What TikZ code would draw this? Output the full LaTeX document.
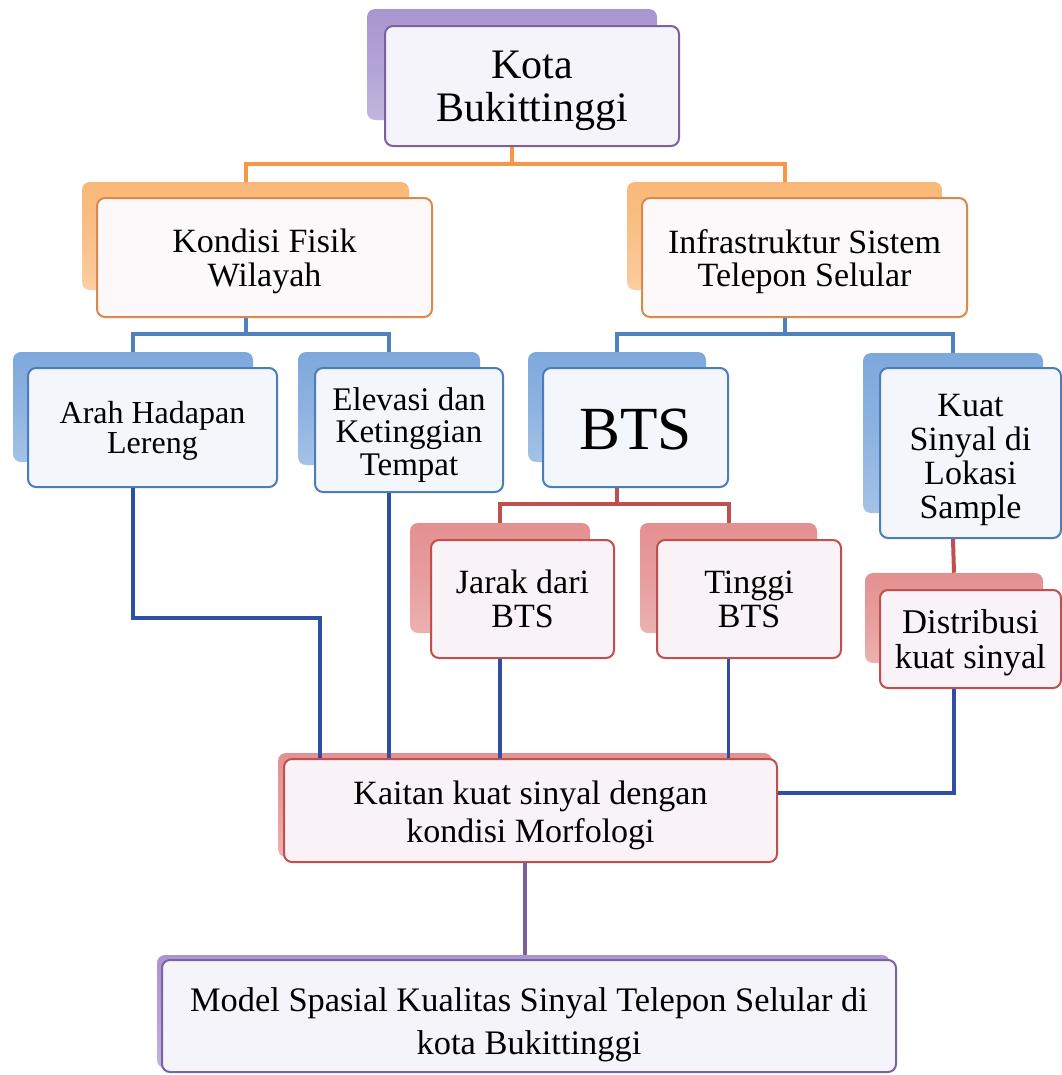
\documentclass[tikz,border=0pt]{standalone}
\usepackage{fontspec}
\setmainfont{Liberation Serif}
\usetikzlibrary{calc}
\definecolor{pBorder}{HTML}{7B62A3}
\definecolor{pShadow}{HTML}{A896D0}
\definecolor{pFill}{HTML}{F6F4FB}
\definecolor{oBorder}{HTML}{D98A4A}
\definecolor{oShadow}{HTML}{F9B878}
\definecolor{oFill}{HTML}{FDF9FA}
\definecolor{oLine}{HTML}{F79646}
\definecolor{bBorder}{HTML}{4A7CBE}
\definecolor{bShadow}{HTML}{7EA8DC}
\definecolor{bFill}{HTML}{F3F7FC}
\definecolor{bLine}{HTML}{4F81BD}
\definecolor{rBorder}{HTML}{C0504D}
\definecolor{rShadow}{HTML}{E49090}
\definecolor{rFill}{HTML}{F9F2F6}
\definecolor{rLine}{HTML}{C0504D}
\definecolor{nLine}{HTML}{2F4FA5}
\definecolor{pLine}{HTML}{7A5F9A}
\tikzset{
  sz/.style 2 args={minimum width=#1*0.75pt, minimum height=#2*0.75pt},
  fs/.style 2 args={font=\fontsize{#1}{#2}\selectfont},
  back/.style={rectangle, rounded corners=6pt, inner sep=0pt, draw=none,
    top color=#1, bottom color=#1!70!white, middle color=#1!88!white},
  front/.style={rectangle, rounded corners=6pt, line width=1.5pt, inner sep=0pt},
  txt/.style={align=center, inner sep=0pt, text=black},
  pbox/.style={front, draw=pBorder, fill=pFill},
  obox/.style={front, draw=oBorder, fill=oFill},
  bbox/.style={front, draw=bBorder, fill=bFill},
  rbox/.style={front, draw=rBorder, fill=rFill},
  oconn/.style={draw=oLine, line width=3pt},
  bconn/.style={draw=bLine, line width=3pt},
  rconn/.style={draw=rLine, line width=3pt},
  nconn/.style={draw=nLine, line width=2.6pt},
  pconn/.style={draw=pLine, line width=3pt},
}
\begin{document}
\begin{tikzpicture}[x=0.75pt,y=-0.75pt]
\fill[white] (0,0) rectangle (1062,1075);
\useasboundingbox (0,0) rectangle (1062,1075);

% level 0
\node[back=pShadow, sz={290}{111}] (kotaS) at (512,64.5) {};
\node[pbox, sz={294}{120}] (kota) at (532,86) {};
\node[txt, fs={31.5}{32}] (kotaT) at ($(kota)+(0,5)$) {Kota\\Bukittinggi};

% level 1
\node[back=oShadow, sz={327}{108}] (fisikS) at (245.5,236) {};
\node[obox, sz={335}{119}] (fisik) at (264.5,257.5) {};
\node[txt, fs={25.5}{25}] (fisikT) at ($(fisik)+(0,4)$) {Kondisi Fisik\\Wilayah};
\node[back=oShadow, sz={315}{108}] (infraS) at (784.5,236) {};
\node[obox, sz={325}{119}] (infra) at (804.5,257.5) {};
\node[txt, fs={25.5}{25}] (infraT) at ($(infra)+(0,4)$) {Infrastruktur Sistem\\Telepon Selular};

% level 2
\node[back=bShadow, sz={240}{110}] (arahS) at (133,407) {};
\node[bbox, sz={249}{119}] (arah) at (152.5,427.5) {};
\node[txt, fs={24}{22.5}] (arahT) at ($(arah)+(0,3)$) {Arah Hadapan\\Lereng};
\node[back=bShadow, sz={182}{113}] (elevS) at (389,408.5) {};
\node[bbox, sz={188}{124}] (elev) at (409,430) {};
\node[txt, fs={24.75}{24.4}] (elevT) at ($(elev)+(0,5)$) {Elevasi dan\\Ketinggian\\Tempat};
\node[back=bShadow, sz={178}{110}] (btsS) at (617,407) {};
\node[bbox, sz={185}{119}] (bts) at (635.5,427.5) {};
\node[txt, fs={46}{46}] (btsT) at ($(bts)+(0,2)$) {BTS};
\node[back=bShadow, sz={180}{160}] (kuatS) at (953,433) {};
\node[bbox, sz={181}{170}] (kuat) at (970.5,453) {};
\node[txt, fs={25.5}{25.7}] (kuatT) at ($(kuat)+(0,7)$) {Kuat\\Sinyal di\\Lokasi\\Sample};

% level 3
\node[back=rShadow, sz={180}{110}] (jarakS) at (500,578) {};
\node[rbox, sz={183}{118}] (jarak) at (522.5,599) {};
\node[txt, fs={25.5}{25.5}] (jarakT) at (jarak) {Jarak dari\\BTS};
\node[back=rShadow, sz={177}{110}] (tinggiS) at (728.5,578) {};
\node[rbox, sz={184}{118}] (tinggi) at (749,599) {};
\node[txt, fs={25.5}{25.5}] (tinggiT) at (tinggi) {Tinggi\\BTS};
\node[back=rShadow, sz={178}{90}] (distS) at (954,618) {};
\node[rbox, sz={181}{98}] (dist) at (970.5,639) {};
\node[txt, fs={26}{26}] (distT) at ($(dist)+(0,4)$) {Distribusi\\kuat sinyal};

% level 4
\node[back=rShadow, sz={494}{104}] (kaitanS) at (525,805) {};
\node[rbox, sz={493}{103}] (kaitan) at (530.5,810.5) {};
\node[txt, fs={25.5}{28}] (kaitanT) at ($(kaitan)+(0,5)$) {Kaitan kuat sinyal dengan\\kondisi Morfologi};

% level 5
\node[back=pShadow, sz={733}{113}] (modelS) at (523.5,1011.5) {};
\node[pbox, sz={734}{112}] (model) at (529,1016) {};
\node[txt, fs={25.8}{32}] (modelT) at ($(model)+(0,9)$) {Model Spasial Kualitas Sinyal Telepon Selular di\\kota Bukittinggi};

% connectors: orange
\draw[oconn] (kotaS.south |- kota.south) -- ++(0,17) -| (fisikS.north);
\draw[oconn] (kotaS.south |- kota.south) -- ++(0,17) -| (infraS.north);
% blue
\draw[bconn] (fisikS.south |- fisik.south) -- ++(0,16) -| (arahS.north);
\draw[bconn] (fisikS.south |- fisik.south) -- ++(0,16) -| (elevS.north);
\draw[bconn] (infraS.south |- infra.south) -- ++(0,16) -| (btsS.north);
\draw[bconn] (infraS.south |- infra.south) -- ++(0,16) -| (kuatS.north);
% red
\draw[rconn] (btsS.south |- bts.south) -- ++(0,16) -| (jarakS.north);
\draw[rconn] (btsS.south |- bts.south) -- ++(0,16) -| (tinggiS.north);
\draw[rconn] (kuatS.south |- kuat.south) -- (distS.north);
% navy
\draw[nconn] (arahS.south |- arah.south) -- ++(0,130) -| ($(kaitan.north west)+(37,0)$);
\draw[nconn] (elevS.south |- elev.south) -- (elevS.south |- kaitan.north);
\draw[nconn] (jarakS.south |- jarak.south) -- (jarakS.south |- kaitan.north);
\draw[nconn] (tinggiS.south |- tinggi.south) -- (tinggiS.south |- kaitan.north);
\draw[nconn] (distS.south |- dist.south) |- ($(kaitan.north east)+(0,35)$);
% purple
\draw[pconn] (kaitanS.south |- kaitan.south) -- (kaitanS.south |- modelS.north);
\end{tikzpicture}
\end{document}
